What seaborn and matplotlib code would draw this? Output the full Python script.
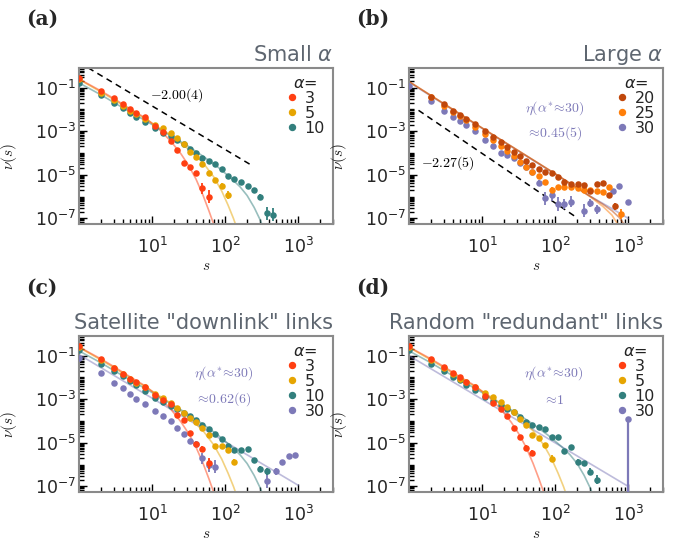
import numpy as np
import matplotlib
matplotlib.use("Agg")
import matplotlib.pyplot as plt
from matplotlib.lines import Line2D
from matplotlib.ticker import FixedLocator, LogLocator, NullFormatter
import pandas as pd
import seaborn as sns

# ---------------------------------------------------------------
# Cluster-size distributions nu(s); values stored as log10(nu)
# ---------------------------------------------------------------
# (a) small alpha
a_s3 = [1, 2, 3, 4, 5, 6, 8, 11, 14, 18, 22, 27, 33, 40, 49, 60]
a_nu3 = [-0.55, -1.14, -1.49, -1.76, -1.99, -2.15, -2.36, -2.75, -3.03, -3.47, -3.88, -4.47, -4.62, -4.92, -5.62, -6.0]
a_es3, a_e3 = [49, 60], [0.25, 0.3]

a_s5 = [1, 2, 3, 4, 5, 6, 8, 11, 14, 18, 22, 27, 33, 40, 49, 60, 73, 90, 111]
a_nu5 = [-0.6, -1.25, -1.58, -1.84, -2.06, -2.22, -2.44, -2.72, -2.86, -3.10, -3.32, -3.60, -3.94, -4.20, -4.50, -4.90, -5.23, -5.50, -5.93]
a_es5, a_e5 = [90, 111], [0.12, 0.2]

a_s10 = [1, 2, 3, 4, 5, 6, 8, 11, 14, 18, 22, 27, 33, 40, 49, 60, 73, 90, 111, 134, 166, 204, 250, 302, 372, 449]
a_nu10 = [-0.78, -1.34, -1.69, -1.95, -2.18, -2.33, -2.56, -2.85, -3.09, -3.22, -3.40, -3.60, -3.83, -3.98, -4.21, -4.35,
          -4.50, -4.72, -5.05, -5.20, -5.31, -5.50, -5.69, -6.0, -6.76, -6.84]
a_es10, a_e10 = [302, 372, 449], [0.12, 0.3, 0.3]

# (b) large alpha
b_s20 = [2, 3, 4, 5, 6, 8, 11, 14, 18, 22, 27, 33, 40, 49, 60, 73, 90, 111, 134, 166, 204, 250, 302, 372, 449, 550, 670]
b_nu20 = [-1.41, -1.77, -2.05, -2.25, -2.42, -2.68, -3.00, -3.27, -3.50, -3.72, -3.95, -4.12, -4.35, -4.55, -4.72, -4.85,
          -4.93, -5.10, -5.35, -5.42, -5.42, -5.45, -5.75, -5.42, -5.40, -5.95, -6.45]
b_es20, b_e20 = [550, 670], [0.1, 0.15]

b_s25 = [2, 3, 4, 5, 6, 8, 11, 14, 18, 22, 27, 33, 40, 49, 60, 73, 90, 111, 134, 166, 204, 250, 302, 372, 449, 550, 800]
b_nu25 = [-1.43, -1.82, -2.12, -2.32, -2.50, -2.82, -3.15, -3.40, -3.68, -3.90, -4.15, -4.40, -4.62, -4.85, -5.05, -5.31,
          -5.70, -5.55, -5.58, -5.58, -5.62, -5.72, -5.70, -5.75, -5.80, -5.55, -6.80]
b_es25, b_e25 = [90, 800], [0.12, 0.25]

b_s30 = [1, 2, 3, 4, 5, 6, 8, 11, 14, 18, 22, 27, 33, 40, 49, 60, 73, 90, 111, 134, 166, 250, 302, 372, 630, 760, 1000]
b_nu30 = [-0.91, -1.61, -2.05, -2.33, -2.53, -2.71, -2.97, -3.40, -3.70, -4.00, -4.10, -4.24, -4.47, -4.62, -4.85, -5.36,
          -6.08, -5.92, -6.34, -6.34, -6.23, -6.66, -6.30, -6.58, -5.75, -5.50, -6.23]
b_es30, b_e30 = [60, 73, 90, 111, 134, 166, 250, 302, 372], [0.12, 0.3, 0.3, 0.3, 0.25, 0.25, 0.3, 0.2, 0.2]

# (c) satellite "downlink" links
c_s3 = [1, 2, 3, 4, 5, 6, 8, 11, 14, 18, 22, 27, 33, 40, 49, 60]
c_nu3 = [-0.55, -1.17, -1.55, -1.82, -2.05, -2.22, -2.45, -2.80, -3.05, -3.23, -3.74, -3.95, -4.55, -5.05, -5.28, -5.95]
c_es3, c_e3 = [40, 49, 60], [0.1, 0.15, 0.25]

c_s5 = [1, 2, 3, 4, 5, 6, 8, 11, 14, 18, 22, 27, 33, 40, 49, 60, 73, 90, 111, 134]
c_nu5 = [-0.6, -1.2, -1.58, -1.85, -2.06, -2.24, -2.46, -2.74, -2.95, -3.18, -3.42, -3.62, -3.85, -4.05, -4.30, -4.65,
         -5.14, -5.14, -5.34, -5.88]
c_es5, c_e5 = [134], [0.12]

c_s10 = [1, 2, 3, 4, 5, 6, 8, 11, 14, 18, 22, 27, 33, 40, 49, 60, 73, 90, 111, 134, 166, 204, 250, 302, 372]
c_nu10 = [-0.75, -1.40, -1.70, -1.95, -2.15, -2.36, -2.62, -2.95, -3.15, -3.30, -3.45, -3.62, -3.77, -3.95, -4.17, -4.38,
          -4.60, -4.84, -5.14, -5.33, -5.33, -5.28, -5.77, -6.20, -6.31]
c_es10, c_e10 = [250, 302, 372], [0.08, 0.15, 0.15]

c_s30 = [1, 2, 3, 4, 5, 6, 8, 11, 14, 18, 22, 27, 33, 40, 49, 60, 73, 372, 490, 600, 740, 900]
c_nu30 = [-1.09, -1.78, -2.25, -2.48, -2.78, -2.97, -3.20, -3.52, -3.78, -4.02, -4.30, -4.60, -4.93, -5.05, -5.72, -6.03,
          -6.10, -6.74, -6.31, -5.88, -5.62, -5.55]
c_es30, c_e30 = [33, 40, 49, 60, 73, 372, 490], [0.12, 0.15, 0.25, 0.3, 0.3, 0.35, 0.15]

# (d) random "redundant" links
d_s3 = [1, 2, 3, 4, 5, 6, 8, 11, 14, 18, 22, 27, 33, 40, 49]
d_nu3 = [-0.55, -1.17, -1.52, -1.78, -2.0, -2.2, -2.44, -2.85, -3.18, -3.46, -3.78, -4.32, -4.73, -5.22, -5.45]
d_es3, d_e3 = [40, 49], [0.12, 0.12]

d_s5 = [1, 2, 3, 4, 5, 6, 8, 11, 14, 18, 22, 27, 33, 40, 49, 60, 73, 90]
d_nu5 = [-0.58, -1.2, -1.55, -1.82, -2.05, -2.22, -2.42, -2.70, -2.92, -3.12, -3.35, -3.60, -3.90, -4.20, -4.65, -4.76,
         -5.10, -5.73]
d_es5, d_e5 = [90], [0.15]

d_s10 = [1, 2, 3, 4, 5, 6, 8, 11, 14, 18, 22, 27, 33, 40, 49, 60, 73, 90, 111, 134, 166, 204, 250, 302, 372]
d_nu10 = [-0.75, -1.36, -1.72, -1.98, -2.13, -2.36, -2.59, -2.90, -3.10, -3.28, -3.43, -3.58, -3.81, -4.04, -4.19, -4.26,
          -4.38, -4.75, -4.75, -5.37, -5.18, -5.86, -5.94, -6.32, -6.70]
d_es10, d_e10 = [204, 250, 302, 372], [0.1, 0.1, 0.15, 0.2]

d_s30 = [1000]
d_nu30 = [-3.89]

# fitted curves (log10 nu), shared by panels (a), (c), (d)
fit_s3 = [1, 2, 3, 5, 8, 12, 18, 25, 32, 40, 50, 60, 72]
fit_nu3 = [-0.6, -1.15, -1.5, -1.97, -2.38, -2.85, -3.45, -4.05, -4.6, -5.2, -5.95, -6.65, -7.4]
fit_s5 = [1, 2, 3, 5, 8, 12, 18, 25, 35, 50, 70, 90, 110, 130, 145]
fit_nu5 = [-0.62, -1.2, -1.55, -2.02, -2.42, -2.8, -3.18, -3.55, -3.95, -4.45, -5.1, -5.75, -6.4, -7.0, -7.45]
fit_s10 = [1, 2, 3, 5, 8, 12, 20, 30, 50, 80, 120, 160, 200, 250, 300, 330]
fit_nu10 = [-0.78, -1.33, -1.68, -2.12, -2.5, -2.85, -3.3, -3.65, -4.15, -4.65, -5.15, -5.55, -5.95, -6.5, -7.05, -7.4]
# fitted curves for large alpha
fit_s20 = [1, 10, 100, 300, 450, 600, 750, 870]
fit_nu20 = [-0.72, -2.85, -4.95, -5.98, -6.35, -6.65, -6.95, -7.25]
fit_s25 = [1, 10, 100, 300, 450, 600, 713]
fit_nu25 = [-0.72, -2.85, -4.95, -6.0, -6.45, -6.85, -7.25]
fit_s30 = [1, 10, 100, 300, 600, 1000]
fit_nu30 = [-0.75, -2.87, -4.97, -5.98, -6.55, -7.0]
# power-law fits for alpha = 30 in (c) and (d)
fitc_s30, fitc_nu30 = [1, 1000], [-0.95, -6.95]
fitd_s30, fitd_nu30 = [1, 1000], [-1.0, -7.0]

# slope guides
guide_a_s, guide_a_nu = [1.0, 231], [1.45, 2.72e-5]
guide_b_s, guide_b_nu = [1.35, 205], [9.1e-3, 1.0e-7]

# ---------------------------------------------------------------
sns.set_theme(style="ticks")
plt.rcParams["font.family"] = ["DejaVu Sans"]
plt.rcParams["mathtext.fontset"] = "dejavusans"

COL = {3: "#ff3f12", 5: "#e6a502", 10: "#327f7d", 20: "#c0470b", 25: "#ff7f0a", 30: "#7d79b8"}
ANN = "#7d79b8"
TITLE_C = "#5e6670"

W, H = 683, 539
fig = plt.figure(figsize=(W / 100, H / 100), dpi=100)


def make_axes(left, top, width=254, height=156):
    return fig.add_axes([left / W, 1 - (top + height) / H, width / W, height / H])


def style(ax):
    ax.set_xscale("log")
    ax.set_yscale("log")
    ax.set_xlim(1, 3000)
    ax.set_ylim(5.5e-8, 0.8)
    ax.xaxis.set_major_locator(FixedLocator([10, 100, 1000]))
    ax.xaxis.set_minor_locator(LogLocator(base=10, subs=np.arange(1, 10), numticks=20))
    ax.xaxis.set_minor_formatter(NullFormatter())
    ax.yaxis.set_major_locator(FixedLocator([1e-7, 1e-5, 1e-3, 1e-1]))
    ax.yaxis.set_minor_locator(LogLocator(base=10, subs=np.arange(1, 10), numticks=40))
    ax.yaxis.set_minor_formatter(NullFormatter())
    ax.tick_params(which="both", direction="in", top=False, right=False, color="black", width=1.0)
    ax.tick_params(which="major", length=6, labelsize=12.5)
    ax.tick_params(which="minor", length=3.5)
    ax.tick_params(axis="x", which="major", pad=9)
    ax.tick_params(axis="y", which="major", pad=2)
    for sp in ax.spines.values():
        sp.set_visible(True)
        sp.set_color("#8a8a8a")
        sp.set_linewidth(1.5)
    ax.set_xlabel(r"$s$", fontsize=11, math_fontfamily="cm", labelpad=1)
    ax.set_ylabel(r"$\nu(s)$", fontsize=11, math_fontfamily="cm")
    ax.yaxis.set_label_coords(-0.238, 0.43)


def fit_line(ax, s, lognu, color):
    df = pd.DataFrame({"s": s, "nu": 10.0 ** np.asarray(lognu)})
    sns.lineplot(data=df, x="s", y="nu", ax=ax, color=color, alpha=0.5, lw=1.2,
                 sort=False, estimator=None, zorder=2, legend=False)


def points(ax, s, lognu, es, e, color, z):
    nu = 10.0 ** np.asarray(lognu)
    df = pd.DataFrame({"s": s, "nu": nu})
    lookup = dict(zip(s, nu))
    if es:
        v = np.array([lookup[k] for k in es])
        ee = np.asarray(e)
        ax.errorbar(es, v, yerr=[v * (1 - 10 ** -ee), v * (10 ** ee - 1)], fmt="none",
                    ecolor=color, elinewidth=1.3, capsize=0, zorder=z)
    sns.scatterplot(data=df, x="s", y="nu", ax=ax, color=color, s=22, linewidth=0,
                    zorder=z + 0.5, legend=False)


def legend(ax, keys):
    handles = [Line2D([], [], marker="o", ls="none", color=COL[k], ms=4.3) for k in keys]
    lg = ax.legend(handles, [str(k) for k in keys], title=r"$\alpha$=", loc="upper right",
                   frameon=False, fontsize=11.5, title_fontsize=11.5, handlelength=0.7,
                   handletextpad=0.45, labelspacing=0.0, borderpad=0.05, borderaxespad=0.45)
    lg.get_title().set_color("#222222")


def guide(ax, s, nu):
    df = pd.DataFrame({"s": s, "nu": nu})
    sns.lineplot(data=df, x="s", y="nu", ax=ax, color="black", lw=1.1, ls=(0, (4, 3)),
                 sort=False, estimator=None, legend=False, zorder=2)


def cm_text(ax, x, y, s, color="black", size=10):
    ax.text(x, y, s, transform=ax.transAxes, ha="center", va="center", color=color,
            fontsize=size, math_fontfamily="cm")


def title(ax, t):
    ax.set_title(t, loc="right", fontsize=15, color=TITLE_C, pad=5)


def panel_label(x, y, t):
    fig.text(x / W, 1 - y / H, t, fontsize=14.5, family="DejaVu Serif", weight="bold",
             va="center", ha="left")


ax_a = make_axes(79, 68)
ax_b = make_axes(409, 68)
ax_c = make_axes(79, 336)
ax_d = make_axes(409, 336)

# ---- (a)
style(ax_a)
fit_line(ax_a, fit_s10, fit_nu10, COL[10])
fit_line(ax_a, fit_s5, fit_nu5, COL[5])
fit_line(ax_a, fit_s3, fit_nu3, COL[3])
points(ax_a, a_s10, a_nu10, a_es10, a_e10, COL[10], 3)
points(ax_a, a_s5, a_nu5, a_es5, a_e5, COL[5], 4)
points(ax_a, a_s3, a_nu3, a_es3, a_e3, COL[3], 5)
guide(ax_a, guide_a_s, guide_a_nu)
cm_text(ax_a, 0.384, 0.827, r"$-2.00(4)$")
legend(ax_a, [3, 5, 10])
title(ax_a, r"Small $\alpha$")
style(ax_a)

# ---- (b)
style(ax_b)
fit_line(ax_b, fit_s30, fit_nu30, COL[30])
fit_line(ax_b, fit_s25, fit_nu25, COL[25])
fit_line(ax_b, fit_s20, fit_nu20, COL[20])
points(ax_b, b_s30, b_nu30, b_es30, b_e30, COL[30], 3)
points(ax_b, b_s25, b_nu25, b_es25, b_e25, COL[25], 4)
points(ax_b, b_s20, b_nu20, b_es20, b_e20, COL[20], 5)
guide(ax_b, guide_b_s, guide_b_nu)
cm_text(ax_b, 0.155, 0.393, r"$-2.27(5)$")
cm_text(ax_b, 0.573, 0.744, r"$\eta(\alpha^{*}\!\approx\!30)$", color=ANN)
cm_text(ax_b, 0.571, 0.583, r"$\approx\!0.45(5)$", color=ANN)
legend(ax_b, [20, 25, 30])
title(ax_b, r"Large $\alpha$")
style(ax_b)

# ---- (c)
style(ax_c)
fit_line(ax_c, fitc_s30, fitc_nu30, COL[30])
fit_line(ax_c, fit_s10, fit_nu10, COL[10])
fit_line(ax_c, fit_s5, fit_nu5, COL[5])
fit_line(ax_c, fit_s3, fit_nu3, COL[3])
points(ax_c, c_s30, c_nu30, c_es30, c_e30, COL[30], 3)
points(ax_c, c_s10, c_nu10, c_es10, c_e10, COL[10], 4)
points(ax_c, c_s5, c_nu5, c_es5, c_e5, COL[5], 5)
points(ax_c, c_s3, c_nu3, c_es3, c_e3, COL[3], 6)
cm_text(ax_c, 0.571, 0.76, r"$\eta(\alpha^{*}\!\approx\!30)$", color=ANN)
cm_text(ax_c, 0.567, 0.595, r"$\approx\!0.62(6)$", color=ANN)
legend(ax_c, [3, 5, 10, 30])
title(ax_c, 'Satellite "downlink" links')
style(ax_c)

# ---- (d)
style(ax_d)
fit_line(ax_d, fitd_s30, fitd_nu30, COL[30])
fit_line(ax_d, fit_s10, fit_nu10, COL[10])
fit_line(ax_d, fit_s5, fit_nu5, COL[5])
fit_line(ax_d, fit_s3, fit_nu3, COL[3])
ax_d.vlines(d_s30, 5.5e-8, 10.0 ** np.asarray(d_nu30), color=COL[30], lw=1.6, zorder=3)
points(ax_d, d_s30, d_nu30, [], [], COL[30], 3)
points(ax_d, d_s10, d_nu10, d_es10, d_e10, COL[10], 4)
points(ax_d, d_s5, d_nu5, d_es5, d_e5, COL[5], 5)
points(ax_d, d_s3, d_nu3, d_es3, d_e3, COL[3], 6)
cm_text(ax_d, 0.571, 0.76, r"$\eta(\alpha^{*}\!\approx\!30)$", color=ANN)
cm_text(ax_d, 0.571, 0.59, r"$\approx\!1$", color=ANN)
legend(ax_d, [3, 5, 10, 30])
title(ax_d, 'Random "redundant" links')
style(ax_d)

panel_label(26, 19, "(a)")
panel_label(356, 19, "(b)")
panel_label(26, 288, "(c)")
panel_label(356, 288, "(d)")

fig.savefig("out.png", dpi=100)
